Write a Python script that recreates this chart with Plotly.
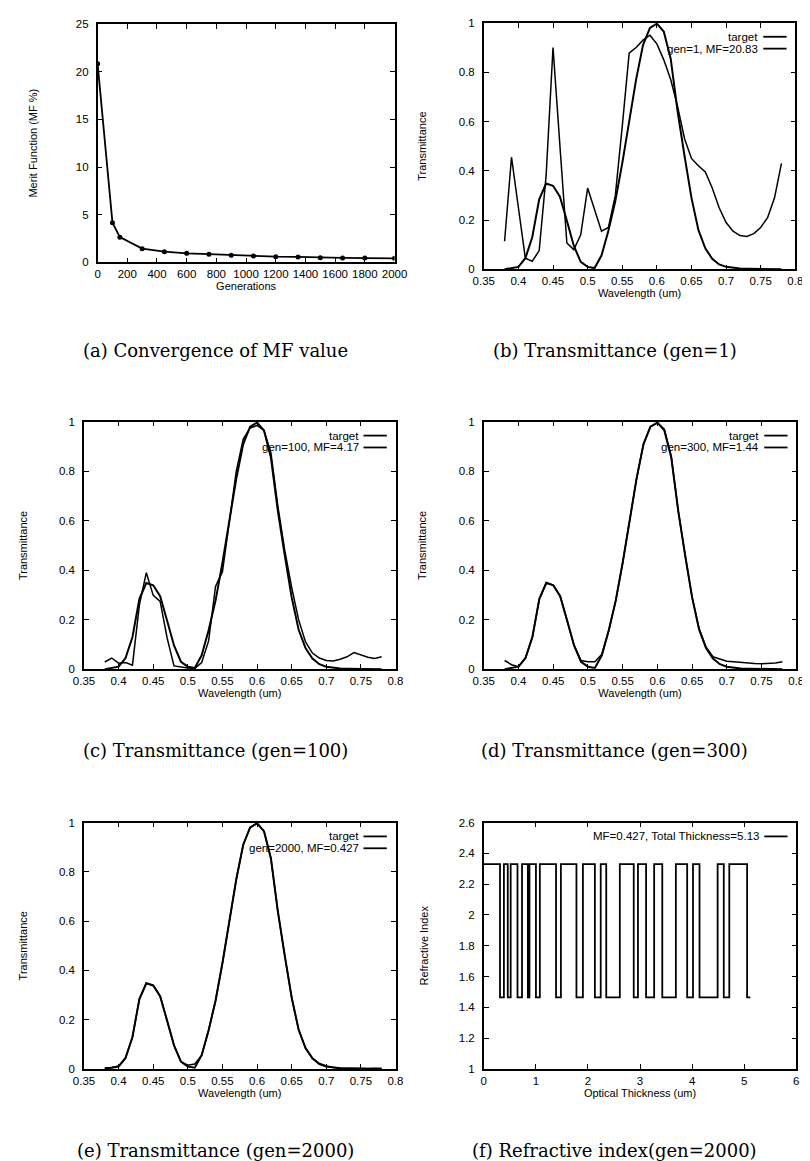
import plotly.graph_objects as go

# ---------------- data ----------------
generations = [0, 100, 150, 300, 450, 600, 750, 900, 1050, 1200, 1350, 1500, 1650, 1800, 2000]
merit = [20.83, 4.17, 2.65, 1.44, 1.12, 0.95, 0.86, 0.76, 0.68, 0.6, 0.57, 0.5, 0.47, 0.45, 0.427]

wavelength = [0.38, 0.39, 0.40, 0.41, 0.42, 0.43, 0.44, 0.45, 0.46, 0.47,
              0.48, 0.49, 0.50, 0.51, 0.52, 0.53, 0.54, 0.55, 0.56, 0.57,
              0.58, 0.59, 0.60, 0.61, 0.62, 0.63, 0.64, 0.65, 0.66, 0.67,
              0.68, 0.69, 0.70, 0.71, 0.72, 0.73, 0.74, 0.75, 0.76, 0.77, 0.78]

target = [0.0, 0.005, 0.01, 0.045, 0.13, 0.284, 0.348, 0.339, 0.295, 0.197,
          0.096, 0.03, 0.01, 0.005, 0.056, 0.157, 0.277, 0.43, 0.6, 0.77,
          0.91, 0.98, 0.997, 0.965, 0.855, 0.64, 0.46, 0.29, 0.16, 0.085,
          0.043, 0.02, 0.01, 0.005, 0.003, 0.002, 0.001, 0.0, 0.0, 0.0, 0.0]

gen1 = [0.114, 0.455, 0.25, 0.045, 0.033, 0.076, 0.38, 0.9, 0.5, 0.107,
        0.08, 0.14, 0.33, 0.24, 0.155, 0.17, 0.3, 0.58, 0.877, 0.9,
        0.93, 0.95, 0.915, 0.85, 0.77, 0.66, 0.53, 0.45, 0.42, 0.395,
        0.33, 0.25, 0.19, 0.155, 0.137, 0.133, 0.145, 0.17, 0.21, 0.29, 0.43]

gen100 = [0.029, 0.045, 0.024, 0.027, 0.016, 0.26, 0.39, 0.298, 0.274, 0.127,
          0.013, 0.008, 0.005, 0.003, 0.027, 0.114, 0.334, 0.394, 0.6, 0.8,
          0.93, 0.975, 0.985, 0.965, 0.875, 0.66, 0.48, 0.33, 0.2, 0.11,
          0.065, 0.045, 0.035, 0.033, 0.04, 0.05, 0.067, 0.058, 0.048, 0.043, 0.05]

gen300 = [0.035, 0.018, 0.01, 0.045, 0.13, 0.284, 0.35, 0.34, 0.295, 0.197,
          0.096, 0.035, 0.03, 0.03, 0.06, 0.157, 0.277, 0.43, 0.6, 0.77,
          0.91, 0.98, 0.995, 0.97, 0.86, 0.64, 0.46, 0.29, 0.165, 0.09,
          0.05, 0.04, 0.032, 0.03, 0.027, 0.025, 0.023, 0.022, 0.022, 0.025, 0.03]

gen2000 = [0.005, 0.006, 0.012, 0.045, 0.13, 0.284, 0.348, 0.339, 0.295, 0.197,
           0.096, 0.03, 0.015, 0.02, 0.056, 0.157, 0.277, 0.43, 0.6, 0.77,
           0.91, 0.98, 0.997, 0.965, 0.855, 0.64, 0.46, 0.29, 0.16, 0.085,
           0.043, 0.022, 0.012, 0.006, 0.004, 0.003, 0.002, 0.002, 0.002, 0.003, 0.003]

# refractive index profile (gen=2000): layer edges (optical thickness, um) and material per layer
layer_edges = [0.0, 0.311, 0.386, 0.460, 0.516, 0.647, 0.734, 0.846, 0.877, 1.001,
               1.076, 1.387, 1.480, 1.779, 1.903, 2.133, 2.245, 2.351, 2.612, 2.879,
               2.960, 3.116, 3.271, 3.427, 3.688, 3.905, 4.017, 4.142, 4.490, 4.608,
               4.714, 5.056, 5.118]
n_high = 2.33
n_low = 1.465
layer_material = ["H", "L"] * 16

captions = ["(a) Convergence of MF value", "(b) Transmittance (gen=1)",
            "(c) Transmittance (gen=100)", "(d) Transmittance (gen=300)",
            "(e) Transmittance (gen=2000)", "(f) Refractive index(gen=2000)"]

# ---------------- layout helpers ----------------
W, H = 810, 1161
def px_x(a, b):
    return [a / W, b / W]
def px_y(top, bottom):
    return [1 - bottom / H, 1 - top / H]

domains = {
    1: (px_x(81, 387), px_y(10, 251)),
    2: (px_x(479, 800), px_y(9, 258)),
    3: (px_x(67, 388), px_y(412, 662)),
    4: (px_x(479, 801), px_y(412, 662)),
    5: (px_x(67, 388), px_y(817, 1066)),
    6: (px_x(479, 801), px_y(817, 1066)),
}

FONT = "Liberation Sans, Arial, sans-serif"
TICK_SIZE = 11.5
TITLE_SIZE = 11
fig = go.Figure()

line_t = dict(color="black", width=2)
line_g = dict(color="black", width=1.5)

# (a)
fig.add_trace(go.Scatter(x=generations, y=merit, mode="lines+markers",
                         line=dict(color="black", width=1.8),
                         marker=dict(color="black", size=5, symbol="circle"),
                         xaxis="x", yaxis="y", showlegend=False))
# (b)-(e)
panels = [(2, gen1, "gen=1, MF=20.83"), (3, gen100, "gen=100, MF=4.17"),
          (4, gen300, "gen=300, MF=1.44"), (5, gen2000, "gen=2000, MF=0.427")]
for k, g, name in panels:
    fig.add_trace(go.Scatter(x=wavelength, y=target, mode="lines", line=line_t,
                             xaxis=f"x{k}", yaxis=f"y{k}", showlegend=False, name="target"))
    fig.add_trace(go.Scatter(x=wavelength, y=g, mode="lines", line=line_g,
                             xaxis=f"x{k}", yaxis=f"y{k}", showlegend=False, name=name))

# (f) step profile
n_vals = [n_high if m == "H" else n_low for m in layer_material]
fig.add_trace(go.Scatter(x=layer_edges, y=n_vals + [n_vals[-1]], mode="lines",
                         line=dict(color="black", width=1.8, shape="hv"),
                         xaxis="x6", yaxis="y6", showlegend=False))

axis_common = dict(showline=True, linecolor="black", linewidth=1.5, mirror="ticks",
                   ticks="inside", ticklen=5, tickcolor="black", tickwidth=1,
                   showgrid=False, zeroline=False,
                   tickfont=dict(family=FONT, size=TICK_SIZE, color="black"))

xr = {1: [0, 2000], 2: [0.35, 0.8], 3: [0.35, 0.8], 4: [0.35, 0.8], 5: [0.35, 0.8], 6: [0, 6]}
xd = {1: 200, 2: 0.05, 3: 0.05, 4: 0.05, 5: 0.05, 6: 1}
yr = {1: [0, 25], 2: [0, 1], 3: [0, 1], 4: [0, 1], 5: [0, 1], 6: [1, 2.6]}
yd = {1: 5, 2: 0.2, 3: 0.2, 4: 0.2, 5: 0.2, 6: 0.2}
xt = {1: "Generations", 2: "Wavelength (um)", 3: "Wavelength (um)", 4: "Wavelength (um)",
      5: "Wavelength (um)", 6: "Optical Thickness (um)"}
yt = {1: "Merit Function (MF %)", 2: "Transmittance", 3: "Transmittance", 4: "Transmittance",
      5: "Transmittance", 6: "Refractive Index"}
ystand = {1: 36, 2: 30, 3: 29, 4: 30, 5: 29, 6: 28}

lay = {}
for k in range(1, 7):
    sx = "" if k == 1 else str(k)
    dx, dy = domains[k]
    lay[f"xaxis{sx}"] = dict(axis_common, domain=dx, range=xr[k], dtick=xd[k], tick0=0,
                             anchor=f"y{sx}",
                             title=dict(text=xt[k], standoff=0,
                                        font=dict(family=FONT, size=TITLE_SIZE, color="black")))
    lay[f"yaxis{sx}"] = dict(axis_common, domain=dy, range=yr[k], dtick=yd[k], tick0=0,
                             anchor=f"x{sx}", ticklabelstandoff=5,
                             title=dict(text=yt[k], standoff=ystand[k],
                                        font=dict(family=FONT, size=TITLE_SIZE, color="black")))

annotations = []
shapes = []
# legends (gnuplot style: text right-aligned, sample to the right)
def add_key(k, rows):
    sx = "" if k == 1 else str(k)
    dx, dy = domains[k]
    wpx = (dx[1] - dx[0]) * W
    hpx = (dy[1] - dy[0]) * H
    for i, txt in enumerate(rows):
        yy = 1 - (14 + 12 * i) / hpx
        annotations.append(dict(xref=f"x{sx} domain", yref=f"y{sx} domain",
                                x=1 - 36 / wpx, y=yy, text=txt, showarrow=False,
                                xanchor="right", yanchor="middle",
                                font=dict(family=FONT, size=TICK_SIZE, color="black")))
        shapes.append(dict(type="line", xref=f"x{sx} domain", yref=f"y{sx} domain",
                           x0=1 - 33 / wpx, x1=1 - 9 / wpx, y0=yy, y1=yy,
                           line=dict(color="black", width=1.8)))

add_key(2, ["target", "gen=1, MF=20.83"])
add_key(3, ["target", "gen=100, MF=4.17"])
add_key(4, ["target", "gen=300, MF=1.44"])
add_key(5, ["target", "gen=2000, MF=0.427"])
add_key(6, ["MF=0.427, Total Thickness=5.13"])

cap_pos = [(202, 340), (614, 340), (202, 744), (614, 744), (202, 1148), (614, 1148)]
for txt, (cx, cy) in zip(captions, cap_pos):
    annotations.append(dict(xref="paper", yref="paper", x=cx / W, y=1 - cy / H, text=txt,
                            showarrow=False, xanchor="center", yanchor="middle",
                            font=dict(family="DejaVu Serif, Liberation Serif, serif",
                                      size=18, color="black")))

fig.update_layout(width=W, height=H, margin=dict(l=0, r=0, t=0, b=0),
                  paper_bgcolor="white", plot_bgcolor="white",
                  annotations=annotations, shapes=shapes, **lay)

fig.write_html("out.html")
